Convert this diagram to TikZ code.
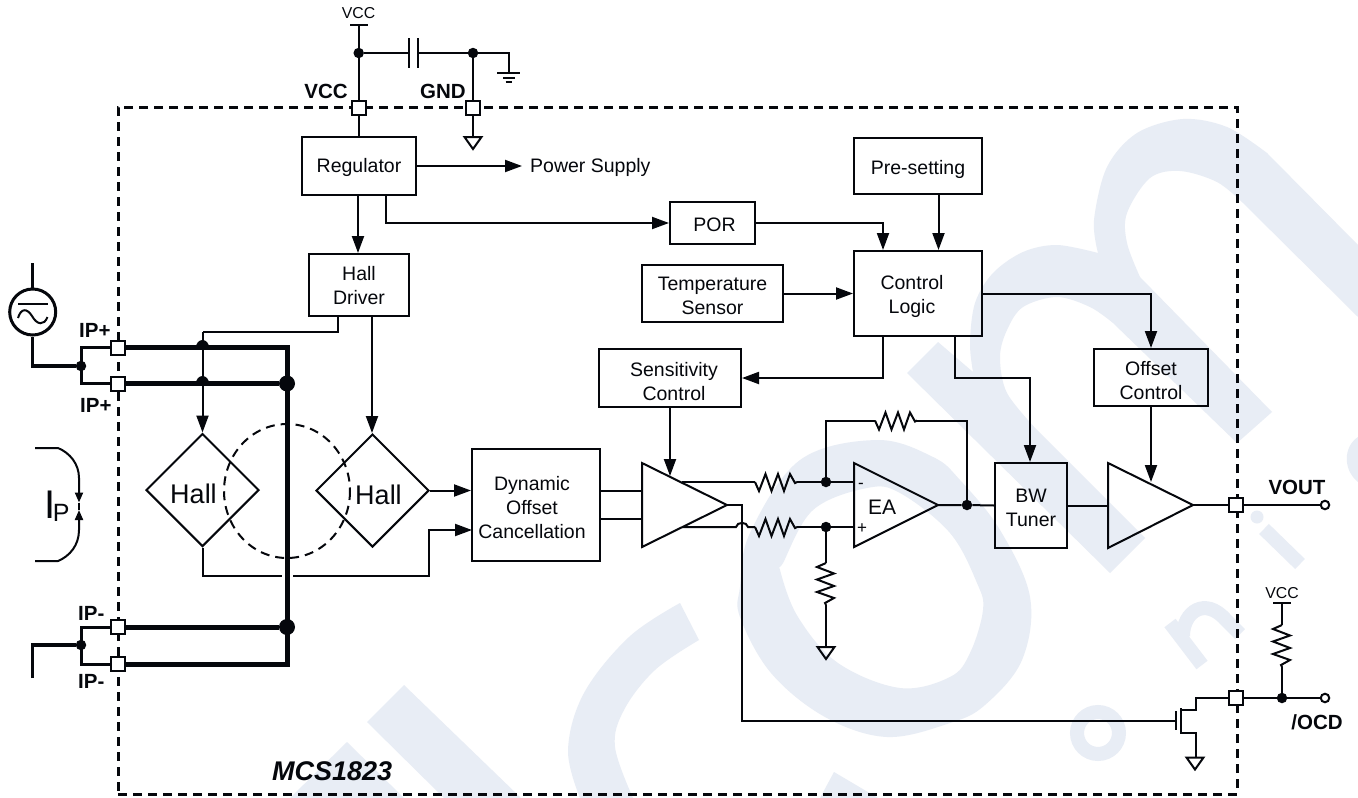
\documentclass[tikz,border=0pt]{standalone}
\usepackage{fontspec}
\setmainfont{Liberation Sans}
\usetikzlibrary{arrows.meta,shapes.geometric,calc}
\definecolor{wmark}{HTML}{E8EDF5}
\definecolor{ink}{HTML}{05070C}
\tikzset{
  x=1pt,y=-1pt,
  wm/.style={fill=wmark,draw=none},
  wmstroke/.style={draw=wmark,line width=14pt,line cap=butt},
  wire/.style={draw=ink,line width=2pt,line join=miter},
  medwire/.style={draw=ink,line width=3pt,line join=miter},
  bus/.style={draw=ink,line width=5pt,line join=miter},
  arr/.style={wire,-{Triangle[length=17pt,width=12pt,color=ink]}},
  box/.style={draw=ink,line width=2pt,inner sep=0pt},
  lbl/.style={inner sep=0pt,align=center,font=\fontsize{19.5}{24}\selectfont,text=ink},
  hallbox/.style={diamond,aspect=1,draw=ink,line width=2pt,inner sep=0pt,minimum width=113pt,minimum height=113pt},
  halltxt/.style={inner sep=0pt,font=\fontsize{27}{30}\selectfont,text=ink},
  pad/.style={draw=ink,fill=white,line width=2pt,minimum size=14pt,inner sep=0pt},
  dotnode/.style={circle,fill=ink,inner sep=0pt,minimum size=10.5pt},
  bigdot/.style={circle,fill=ink,inner sep=0pt,minimum size=16pt},
  opennode/.style={circle,draw=ink,fill=white,line width=2pt,inner sep=0pt,minimum size=8.5pt},
  bold/.style={inner sep=0pt,font=\fontsize{20.5}{24}\selectfont\bfseries,text=ink},
  small/.style={inner sep=0pt,font=\fontsize{15.8}{18}\selectfont,text=ink},
  frameline/.style={draw=ink,line width=3pt,dash pattern=on 9pt off 6pt,inner sep=0pt},
  circdash/.style={draw=ink,line width=2pt,dash pattern=on 9pt off 6pt},
  res/.pic={\draw[wire] (0,0) -- (4,9) -- (10.5,-8) -- (16.5,9) -- (23,-8) -- (29,9) -- (35,-8) -- (40,1) -- (42,0);},
  gndtri/.pic={\draw[wire] (-8.5,0) -- (8.5,0) -- (0,12) -- cycle;}
}
\begin{document}
\begin{tikzpicture}
\useasboundingbox (0,0) rectangle (1358,798);
\fill[white] (0,0) rectangle (1358,798);
% ---- watermark ----
\fill[wm] plot[smooth,tension=.55] coordinates {(1098,253) (1094,220) (1107,167) (1137,133) (1183,119) (1227,127) (1267,153)}
  -- (1358,245) -- (1358,317) -- (1243,203)
  -- plot[smooth,tension=.55] coordinates {(1243,203) (1217,182) (1180,171) (1150,178) (1127,213) (1127,243) (1140,277)}
  -- (1272,412) -- (1237,443) -- (1113,323)
  -- plot[smooth,tension=.55] coordinates {(1113,323) (1090,307) (1057,297) (1023,307) (1007,330) (1000,357) (1007,393) (1037,430)}
  -- (1145,538) -- (1110,573) -- (907,373) -- (938,342) -- (973,372)
  -- plot[smooth,tension=.55] coordinates {(973,372) (970,343) (975,303) (993,273) (1023,252) (1057,245) (1098,253)} -- cycle;
\fill[wm,even odd rule] plot[smooth cycle,tension=.6] coordinates {(740,587) (750,533) (800,460) (877,440) (933,457) (960,480) (1000,530) (1030,597) (1022,660) (985,705) (950,723) (887,737) (825,717) (771,673) (740,617)}
  plot[smooth cycle,tension=.6] coordinates {(783,563) (813,510) (867,488) (900,493) (950,533) (977,583) (983,610) (970,653) (950,677) (900,688) (838,663) (798,617) (780,570)};
\fill[wm] plot[smooth,tension=.6] coordinates {(680,603) (629,637) (584,693) (568,750) (580,798)}
  -- plot[smooth,tension=.6] coordinates {(633,798) (615,747) (624,710) (655,670) (699,640)} -- cycle;
\fill[wm] (834,772) -- (820,798) -- (878,798) -- cycle;
\fill[wm] (404,685) -- (367,722) -- (444,798) -- (521,798) -- cycle;
\fill[wm] (347,742) -- (290,798) -- (404,798) -- cycle;
\draw[wmstroke] (1264,529) -- (1300,564);
\fill[wmark] (1257,517) circle[radius=6.5];
\draw[wmstroke] (1170,623) -- (1202,665);
\draw[wmstroke] (1183,636) .. controls (1183,612) and (1205,596) .. (1226,620) -- (1240,634);
\draw[wmstroke] (1098,733) circle[radius=21];
\fill[wm] (1358,437) .. controls (1343,447) and (1343,470) .. (1358,482) -- cycle;
% ---- frame ----
\node[frameline,minimum width=1119pt,minimum height=687pt] (frame) at (677.5,450.5) {};
% ---- blocks ----
\node[box,minimum width=114pt,minimum height=58pt,label={[lbl,yshift=-1.5pt]center:Regulator}] (reg) at (359,166) {};
\node[box,minimum width=100pt,minimum height=62pt,label={[lbl,yshift=-0.5pt]center:{Hall\\Driver}}] (hd) at (359,285) {};
\node[box,minimum width=85pt,minimum height=42pt,label={[lbl,xshift=2pt,yshift=-2pt]center:POR}] (por) at (712.5,223) {};
\node[box,minimum width=128pt,minimum height=56pt,label={[lbl,yshift=-3pt]center:Pre-setting}] (pre) at (918,166) {};
\node[box,minimum width=128pt,minimum height=85pt,label={[lbl,xshift=-6pt,yshift=-2.5pt]center:{Control\\Logic}}] (ctl) at (918,293.5) {};
\node[box,minimum width=141pt,minimum height=57pt,label={[lbl,yshift=-2.5pt]center:{Temperature\\Sensor}}] (tmp) at (712.5,293.5) {};
\node[box,minimum width=142pt,minimum height=58pt,label={[lbl,xshift=4pt,yshift=-3.5pt]center:{Sensitivity\\Control}}] (sen) at (670,378) {};
\node[box,minimum width=114pt,minimum height=57pt,label={[lbl,yshift=-3pt]center:{Offset\\Control}}] (off) at (1151,377.5) {};
\node[box,minimum width=128pt,minimum height=112pt,label={[lbl,xshift=-4pt,yshift=-2.5pt]center:{Dynamic\\Offset\\Cancellation}}] (doc) at (536,505) {};
\node[box,minimum width=72pt,minimum height=85pt,label={[lbl,yshift=-2.5pt]center:{BW\\Tuner}}] (bw) at (1031,505.5) {};
\node[hallbox,label={[halltxt,xshift=-9pt,yshift=-4pt]center:Hall}] (h1) at (202.5,490) {};
\node[hallbox,label={[halltxt,xshift=6pt,yshift=-4pt]center:Hall}] (h2) at (372.5,490.5) {};
\draw[circdash] (287,491) ellipse[x radius=63,y radius=67];
% ---- amplifiers ----
\coordinate (a1t) at (642,463); \coordinate (a1b) at (642,547); \coordinate (a1o) at (727,505);
\coordinate (eat) at (854,463); \coordinate (eab) at (854,547); \coordinate (eao) at (938,505);
\coordinate (a3t) at (1108,463); \coordinate (a3b) at (1108,548); \coordinate (a3o) at (1193,505);
\draw[wire] (a1t) -- (a1o) -- (a1b) -- cycle;
\draw[wire] (eat) -- (eao) -- (eab) -- cycle;
\draw[wire] (a3t) -- (a3o) -- (a3b) -- cycle;
\node[inner sep=0pt,font=\fontsize{21}{24}\selectfont,text=ink] (eatxt) at (882,507) {EA};
\node[inner sep=0pt,font=\fontsize{17}{20}\selectfont,text=ink] (eam) at (861,486) {-};
\node[inner sep=0pt,font=\fontsize{17}{20}\selectfont,text=ink] (eap) at (862,529) {+};
% ---- top supply ----
\node[small] (vcct) at (358.5,13) {VCC};
\coordinate (vbar1) at (350,25); \coordinate (vbar2) at (368,25);
\draw[wire] (vbar1) -- (vbar2);
\node[dotnode] (dv) at (358.7,53) {};
\node[dotnode] (dg) at (473,53) {};
\node[pad] (pv) at (358.7,108) {};
\node[pad] (pg) at (473,108) {};
\draw[wire] (358.7,25) -- (dv) -- (pv);
\draw[wire] (pv) -- (358.7,0 |- reg.north);
\coordinate (c1) at (409,53); \coordinate (c2) at (417.5,53);
\draw[wire] (dv) -- (c1);
\draw[wire] (c2) -- (dg);
\draw[wire] (409,38) -- (409,68);
\draw[wire] (417.5,38) -- (417.5,68);
\draw[wire] (dg) -- (508.5,53) -- (508.5,72.5);
\draw[wire] (497,72.5) -- (520,72.5);
\draw[wire] (503,77.5) -- (515,77.5);
\draw[wire] (505.5,82) -- (512,82);
\draw[wire] (dg) -- (pg);
\draw[wire] (pg) -- (473,137);
\pic at (473,137) {gndtri};
\node[bold] (lvcc) at (326,91) {VCC};
\node[bold] (lgnd) at (443,91) {GND};
% ---- control wiring ----
\node[lbl,anchor=west] (psu) at (530,167.5) {Power Supply};
\draw[arr] (reg.east) -- (522,166);
\draw[arr] (358,0 |- reg.south) -- (358,0 |- hd.north);
\draw[arr] (386,0 |- reg.south) -- (386,223) -- (por.west);
\draw[arr] (por.east) -- (883,223) -- (883,0 |- ctl.north);
\draw[arr] (938.5,0 |- pre.south) -- (938.5,0 |- ctl.north);
\draw[arr] (tmp.east) -- (ctl.west);
\draw[arr] (ctl.east) -- (1151,293.5) -- (off.north);
\draw[arr] (883,0 |- ctl.south) -- (883,378) -- (sen.east);
\draw[arr] (955,0 |- ctl.south) -- (955,378) -- (1030,378) -- (1030,0 |- bw.north);
\draw[arr] (670,0 |- sen.south) -- (670,476);
\draw[arr] (off.south) -- (1151,482);
% ---- bus ----
\node[pad] (p1) at (117.5,347.5) {};
\node[pad] (p2) at (117.5,383.5) {};
\node[pad] (p3) at (117.5,627) {};
\node[pad] (p4) at (117.5,664) {};
\node[bigdot] (bd1) at (287,383.5) {};
\node[bigdot] (bd2) at (287,627) {};
\draw[bus] (p1) -- (287,347.5) -- (287,664) -- (p4);
\draw[bus] (p2) -- (bd1);
\draw[bus] (p3) -- (bd2);
\fill[ink] (195.5,349) .. controls (196,337) and (209,337) .. (209.5,349) -- cycle;
\fill[ink] (195.5,385) .. controls (196,373) and (209,373) .. (209.5,385) -- cycle;
% ---- Hall wiring ----
\draw[wire] (338,0 |- hd.south) -- (338,332) -- (202.5,332);
\draw[arr] (202.5,332) -- (h1.north);
\draw[arr] (372,0 |- hd.south) -- (372,0 |- h2.north);
\draw[arr] (h2.east) -- (doc.west |- h2.east);
\draw[wire] (h1.south) -- (202.5,575.5) -- (282,575.5);
\draw[arr] (293,575.5) -- (428.5,575.5) -- (428.5,530) -- (472,530);
\draw[wire] (doc.east |- 0,491) -- (642,491);
\draw[wire] (doc.east |- 0,519) -- (642,519);
% ---- left source ----
\node[circle,draw=ink,line width=3pt,minimum size=46pt,inner sep=0pt] (ac) at (32.7,312) {};
\draw[medwire,line width=3.5pt] (ac.north) -- (32.7,263);
\draw[wire] (18,304) -- (48,304);
\draw[wire] (18,318) .. controls (21,308) and (27,308) .. (32,316) .. controls (37,325) and (44,326) .. (47.5,317);
\node[dotnode] (ld1) at (81,366) {};
\node[dotnode] (ld2) at (81,645) {};
\draw[medwire,line width=3.5pt] (ac.south) -- (32.7,366) -- (ld1);
\draw[medwire] (p1) -- (81,347.5) -- (81,383.5) -- (p2);
\draw[medwire,line width=3.5pt] (32.7,678) -- (32.7,645) -- (ld2);
\draw[medwire] (p3) -- (81,627) -- (81,664) -- (p4);
\node[pad] at (p1) {};
\node[pad] at (p2) {};
\node[pad] at (p3) {};
\node[pad] at (p4) {};
\node[bold,anchor=west] (ip1) at (79,330) {IP+};
\node[bold,anchor=west] (ip2) at (80,405) {IP+};
\node[bold,anchor=west] (ip3) at (78,613) {IP-};
\node[bold,anchor=west] (ip4) at (78,681) {IP-};
% ---- IP arrows ----
\coordinate (ipa) at (79,502.5); \coordinate (ipb) at (79,510);
\draw[wire,-{Triangle[length=10pt,width=8pt,color=ink]}] (35,448) -- (58,448) .. controls (70,453) and (79,464) .. (79,478) -- (ipa);
\draw[wire,-{Triangle[length=10pt,width=8pt,color=ink]}] (35,561) -- (58,561) .. controls (70,556) and (79,545) .. (79,530) -- (ipb);
\draw[wire] (ipa) -- (ipb);
\node[inner sep=0pt,anchor=base west,font=\fontsize{40}{40}\selectfont,text=ink] (ipt) at (44,518) {I\kern-2.5pt\raisebox{-3pt}{\fontsize{25}{25}\selectfont P}};
% ---- amp / EA wiring ----
\coordinate (t1) at (682,482); \coordinate (b1) at (682,527);
\node[dotnode] (nm) at (826,482) {};
\node[dotnode] (np) at (826,527) {};
\node[dotnode] (no) at (967,505) {};
\draw[wire] (t1) -- (755,482);
\pic at (755,482) {res};
\draw[wire] (797,482) -- (nm) -- (854,482);
\draw[wire] (b1) -- (736,527) .. controls (737,521.5) and (747,521.5) .. (748,527) -- (755,527);
\pic at (755,527) {res};
\draw[wire] (797,527) -- (np) -- (854,527);
\draw[wire] (nm) -- (826,420.5) -- (875,420.5);
\pic at (875,420.5) {res};
\draw[wire] (917,420.5) -- (967,420.5) -- (no);
\draw[wire] (np) -- (826,563);
\pic[rotate=-90] at (826,563) {res};
\draw[wire] (826,605) -- (826,647);
\pic at (826,647) {gndtri};
\draw[wire] (eao) -- (no) -- (bw.west);
\draw[wire] (bw.east) -- (a3t |- bw.east);
% ---- outputs ----
\node[pad] (pout) at (1236,505) {};
\node[pad] (pocd) at (1236,698) {};
\node[opennode] (oout) at (1325,505) {};
\node[opennode] (oocd) at (1325,698) {};
\node[dotnode] (nocd) at (1282,698) {};
\draw[wire] (a3o) -- (pout);
\draw[wire] (pout) -- (oout);
\draw[wire] (pocd) -- (nocd) -- (oocd);
\node[bold] (lout) at (1297,487) {VOUT};
\node[bold] (locd) at (1317,722) {/OCD};
\node[small] (vccr) at (1282,593) {VCC};
\draw[wire] (1273,603) -- (1291,603);
\draw[wire] (1282,603) -- (1282,625);
\pic[rotate=-90] at (1282,625) {res};
\draw[wire] (1282,667) -- (nocd);
% ---- transistor ----
\draw[wire] (a1o) -- (741.5,505) -- (741.5,720.5) -- (1176,720.5);
\draw[wire] (1176,711) -- (1176,730);
\draw[wire] (1180.5,708) -- (1180.5,734);
\draw[wire] (1180.5,709.5) -- (1196,709.5) -- (1196,698) -- (pocd);
\draw[wire] (1180.5,733) -- (1196,733) -- (1196,757.5);
\pic at (1195,757.5) {gndtri};
\node[pad] at (pocd) {};
\node[pad] at (pout) {};
\node[inner sep=0pt,anchor=west,font=\fontsize{27}{30}\selectfont\bfseries\itshape,text=ink] (mcs) at (272,771) {MCS1823};
\end{tikzpicture}
\end{document}
